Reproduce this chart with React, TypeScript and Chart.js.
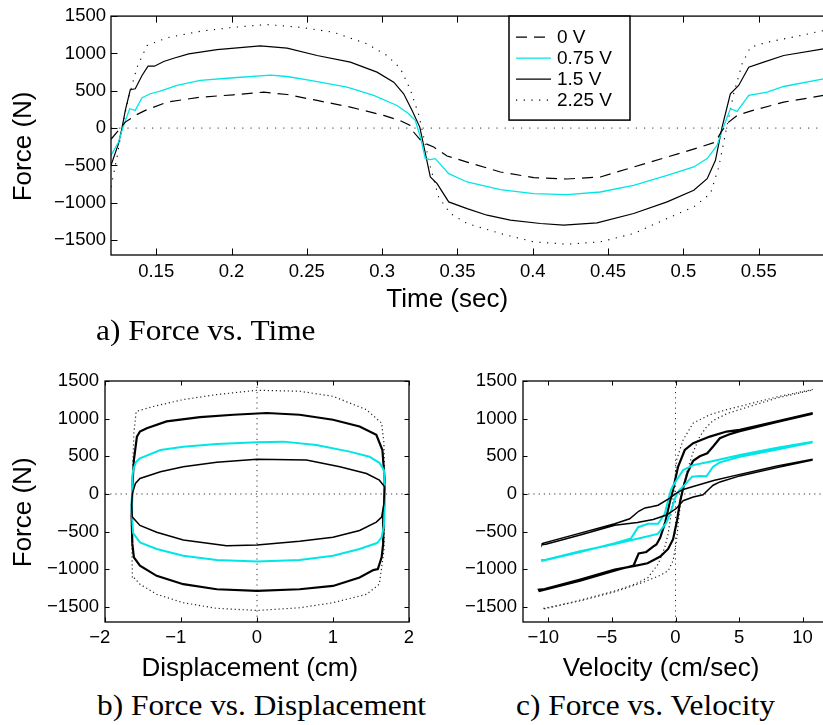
import React, { useEffect, useRef } from "react";
import { Chart, registerables } from "chart.js";

Chart.register(...registerables);

type P = [number, number];

// ---------------- data ----------------
const TOP_X_TICKS = [0.15, 0.2, 0.25, 0.3, 0.35, 0.4, 0.45, 0.5, 0.55];
const FORCE_TICKS = [-1500, -1000, -500, 0, 500, 1000, 1500];
const DISP_TICKS = [-2, -1, 0, 1, 2];
const VEL_TICKS = [-10, -5, 0, 5, 10];
const SERIES_LABELS = ["0 V", "0.75 V", "1.5 V", "2.25 V"];

// a) force (N) vs time (s)
const TIME_0V: P[] = [
  [0.12, -150], [0.1262, 0], [0.1295, 80], [0.1361, 170], [0.1428, 237], [0.1572, 348],
  [0.1793, 414], [0.2014, 446], [0.2213, 481], [0.2369, 450], [0.2568, 370], [0.2789, 281],
  [0.301, 170], [0.3121, 100], [0.3187, 35], [0.3209, -53], [0.3265, -187], [0.3342, -254],
  [0.3431, -374], [0.3564, -455], [0.3785, -588], [0.4006, -663], [0.4228, -682], [0.4449, -655],
  [0.467, -521], [0.4892, -388], [0.5113, -254], [0.5213, -187], [0.5257, -31], [0.5301, 80],
  [0.5357, 170], [0.5445, 227], [0.5666, 348], [0.593, 437],
];
const TIME_075V: P[] = [
  [0.12, -365], [0.125, -187], [0.128, 13], [0.1324, 259], [0.1361, 237], [0.1406, 406],
  [0.1461, 460], [0.1527, 495], [0.1638, 571], [0.1793, 638], [0.2014, 674], [0.2258, 709],
  [0.2369, 691], [0.2523, 638], [0.2767, 548], [0.2944, 437], [0.3099, 303], [0.3176, 193],
  [0.322, 103], [0.3254, -120], [0.3287, -409], [0.332, -423], [0.3353, -409], [0.3442, -610],
  [0.3564, -722], [0.3785, -824], [0.4006, -877], [0.4228, -891], [0.4449, -856], [0.467, -766],
  [0.4892, -632], [0.5069, -521], [0.5158, -409], [0.5224, -231], [0.5257, -31], [0.5312, 259],
  [0.5357, 223], [0.5434, 437], [0.5556, 481], [0.5666, 557], [0.593, 660],
];
const TIME_15V: P[] = [
  [0.12, -499], [0.125, -209], [0.1273, 0], [0.1295, 237], [0.1328, 513], [0.1361, 527],
  [0.1406, 705], [0.1446, 829], [0.1488, 829], [0.155, 892], [0.1616, 936], [0.1716, 995],
  [0.1904, 1052], [0.2191, 1101], [0.2369, 1070], [0.2568, 972], [0.2789, 883], [0.2966, 749],
  [0.3077, 615], [0.3143, 460], [0.3199, 237], [0.325, 13], [0.332, -655], [0.3365, -744],
  [0.3442, -989], [0.3564, -1078], [0.3697, -1167], [0.3851, -1234], [0.4051, -1278],
  [0.4205, -1301], [0.4427, -1270], [0.467, -1144], [0.4892, -989], [0.5069, -833],
  [0.5158, -677], [0.5213, -432], [0.5257, 13], [0.5312, 460], [0.5367, 571], [0.5434, 816],
  [0.5533, 883], [0.5666, 972], [0.593, 1061],
];
const TIME_225V: P[] = [
  [0.12, -789], [0.124, -388], [0.1273, 0], [0.1317, 414], [0.1373, 816], [0.1439, 1106],
  [0.1572, 1209], [0.1793, 1297], [0.2014, 1350], [0.2236, 1387], [0.2457, 1350], [0.2678, 1283],
  [0.29, 1128], [0.3033, 972], [0.3121, 800], [0.3187, 515], [0.3243, 180], [0.332, -521],
  [0.3375, -923], [0.3453, -1144], [0.3564, -1278], [0.3785, -1412], [0.4006, -1524],
  [0.4228, -1555], [0.4449, -1524], [0.467, -1412], [0.4892, -1211], [0.5069, -1056],
  [0.518, -877], [0.5235, -521], [0.5279, -75], [0.5334, 460], [0.539, 861], [0.5445, 1083],
  [0.5556, 1150], [0.5777, 1239], [0.593, 1306],
];
const TIME_ZERO: P[] = [[0.12, 0], [0.6, 0]];

// b) force (N) vs displacement (cm)
const DISP_0V: P[] = [
  [-1.64, 5], [-1.6, 139], [-1.54, 206], [-1.27, 294], [-0.97, 361], [-0.53, 420], [0, 460],
  [0.65, 450], [1.09, 361], [1.44, 272], [1.61, 183], [1.68, 94], [1.67, -128], [1.64, -307],
  [1.57, -374], [1.35, -485], [1.0, -575], [0.56, -628], [0, -677], [-0.4, -686], [-0.97, -610],
  [-1.32, -508], [-1.54, -418], [-1.64, -307], [-1.65, -150], [-1.64, 5],
];
const DISP_075V: P[] = [
  [-1.64, 227], [-1.63, 317], [-1.59, 428], [-1.54, 473], [-1.27, 584], [-0.97, 628],
  [-0.53, 664], [0, 687], [0.35, 695], [0.78, 651], [1.22, 562], [1.48, 495], [1.61, 414],
  [1.67, 317], [1.68, 139], [1.68, -150], [1.67, -418], [1.64, -575], [1.59, -642], [1.57, -655],
  [1.35, -730], [1.0, -820], [0.56, -877], [0, -896], [-0.53, -877], [-0.97, -820], [-1.32, -730],
  [-1.54, -642], [-1.63, -521], [-1.65, -200], [-1.64, 227],
];
const DISP_15V: P[] = [
  [-1.64, -663], [-1.65, -300], [-1.64, 100], [-1.62, 450], [-1.58, 762], [-1.54, 829],
  [-1.45, 874], [-1.19, 963], [-0.75, 1021], [-0.31, 1052], [0.13, 1075], [0.56, 1052],
  [1.0, 985], [1.35, 896], [1.57, 785], [1.65, 584], [1.68, 183], [1.67, -218], [1.66, -663],
  [1.64, -842], [1.59, -997], [1.53, -1011], [1.35, -1110], [1.0, -1221], [0.56, -1265],
  [0, -1288], [-0.53, -1265], [-0.97, -1198], [-1.32, -1087], [-1.54, -953], [-1.62, -842],
  [-1.64, -663],
];
const DISP_225V: P[] = [
  [-1.64, -1110], [-1.65, -500], [-1.64, 200], [-1.62, 806], [-1.59, 1096], [-1.36, 1163],
  [-0.97, 1253], [-0.53, 1320], [0, 1377], [0.56, 1364], [1.0, 1297], [1.44, 1119], [1.64, 941],
  [1.67, 674], [1.68, 94], [1.67, -753], [1.61, -1198], [1.44, -1332], [1.0, -1444],
  [0.56, -1511], [0, -1546], [-0.53, -1519], [-0.97, -1444], [-1.32, -1332], [-1.54, -1198],
  [-1.62, -1110], [-1.64, -1110],
];
const DISP_ZERO_H: P[] = [[-2, 0], [2, 0]];
const DISP_ZERO_V: P[] = [[0, -1700], [0, 1500]];

// c) force (N) vs velocity (cm/sec)
const VEL_0V: P[] = [
  [10.8, 460], [8, 370], [5.06, 260], [3, 180], [1.39, 100], [0.6, 60], [0.08, 10], [-0.58, -70],
  [-1.37, -150], [-1.9, -170], [-2.4, -185], [-2.9, -230], [-3.6, -330], [-4.78, -396],
  [-7.5, -520], [-10.45, -655], [-10.5, -672], [-10.2, -668], [-7.5, -545], [-4.78, -415],
  [-3, -380], [-1.76, -340], [-0.71, -280], [0.08, -190], [0.6, -90], [1.4, -40], [2.17, -10],
  [2.6, 60], [2.96, 116], [3.5, 160], [5.06, 240], [8, 350], [10.8, 452],
];
const VEL_075V: P[] = [
  [10.8, 695], [8, 615], [5.06, 517], [2.7, 428], [1.39, 383], [0.6, 317], [0.08, 183],
  [-0.2, 110], [-0.37, 49], [-0.58, -84], [-0.84, -262], [-1.37, -396], [-2.16, -396],
  [-2.94, -441], [-3.5, -590], [-4.78, -655], [-7.5, -770], [-10.45, -886], [-10.5, -875],
  [-10.2, -872], [-7.5, -760], [-4.78, -663], [-2.5, -575], [-1.4, -530], [-0.7, -380],
  [-0.3, -200], [0, -40], [0.3, 50], [0.73, 120], [1.3, 230], [1.91, 240], [2.44, 235],
  [2.96, 361], [3.49, 420], [5.06, 495], [8, 590], [10.8, 688],
];
const VEL_15V: P[] = [
  [10.8, 1075], [8, 965], [5.06, 852], [4.02, 829], [2.7, 762], [1.39, 674], [0.73, 584],
  [0.2, 361], [-0.19, 60], [-0.45, -110], [-0.8, -370], [-1.2, -580], [-1.5, -670],
  [-1.76, -700], [-2.3, -770], [-2.9, -790], [-3.3, -950], [-4.4, -1000], [-7.5, -1150],
  [-10.7, -1288], [-10.75, -1270], [-10.3, -1262], [-7.5, -1135], [-4.78, -1005], [-3.2, -955],
  [-2.2, -920], [-1.2, -830], [-0.58, -730], [-0.19, -600], [0.12, -352], [0.38, -84],
  [0.65, 110], [0.95, 285], [1.39, 440], [1.91, 500], [2.5, 540], [2.96, 630], [3.49, 740],
  [4.2, 790], [5.06, 835], [8, 955], [10.8, 1065],
];
const VEL_225V: P[] = [
  [10.8, 1387], [8, 1290], [5.06, 1163], [4.02, 1119], [2.7, 1052], [1.39, 941], [0.6, 718],
  [0.08, 450], [-0.11, 49], [-0.31, -218], [-0.58, -530], [-0.84, -709], [-1.37, -931],
  [-2.16, -1110], [-3.2, -1198], [-4.78, -1288], [-7.5, -1410], [-10.45, -1532],
  [-10.4, -1520], [-7.5, -1420], [-4.78, -1300], [-2.5, -1170], [-1.2, -1080], [-0.58, -1020],
  [-0.19, -886], [0.08, -619], [0.3, -250], [0.6, 100], [1.0, 350], [1.4, 560], [1.9, 760],
  [2.4, 880], [2.96, 975], [4.1, 1070], [5.85, 1163], [8, 1275], [10.8, 1380],
];
const VEL_ZERO_H: P[] = [[-12, 0], [12, 0]];
const VEL_ZERO_V: P[] = [[0, -1700], [0, 1500]];

// ---------------- styles ----------------
const SANS = "'Liberation Sans', Arial, Helvetica, sans-serif";
const SERIF = "'Liberation Serif', 'Times New Roman', Times, serif";
const CYAN = "#00e6e6";
const NBSP = "\u00A0";

type Style = { color: string; width: number; dash: number[] };
const TOP_STYLES: Style[] = [
  { color: "#000", width: 1.2, dash: [11, 7] },
  { color: CYAN, width: 1.3, dash: [] },
  { color: "#000", width: 1.2, dash: [] },
  { color: "#000", width: 1.1, dash: [1.2, 6.5] },
];
const LOOP_STYLES: Style[] = [
  { color: "#000", width: 1.5, dash: [] },
  { color: CYAN, width: 2, dash: [] },
  { color: "#000", width: 2.2, dash: [] },
  { color: "#222", width: 1.2, dash: [1.2, 2.8] },
];
const ZERO_TOP: Style = { color: "#333", width: 1, dash: [1.2, 7] };
const ZERO_LOOP: Style = { color: "#333", width: 1, dash: [1.2, 4] };

const toXY = (pts: P[]) => pts.map(([x, y]) => ({ x, y }));
const mkSet = (pts: P[], s: Style, label = "") => ({
  label,
  data: toXY(pts),
  borderColor: s.color,
  borderWidth: s.width,
  borderDash: s.dash,
  pointRadius: 0,
  tension: 0,
  fill: false,
});

const yLabel = (v: number) => (v < 0 ? "\u2212" + Math.abs(v) : String(v));
const xLabel = (v: number) => (v < 0 ? "\u2212" + Math.abs(v) + NBSP + NBSP : String(v));

// draws the MATLAB-like box, inward ticks and (optionally) legend
const framePlugin = {
  id: "matlabFrame",
  afterDatasetsDraw(chart: any, _args: any, opts: any) {
    const { ctx, chartArea: a } = chart;
    const xs = chart.scales.x;
    const ys = chart.scales.y;
    const L = opts.tickLen;
    ctx.save();
    ctx.setLineDash([]);
    ctx.strokeStyle = "#000";
    ctx.lineWidth = 1;
    ctx.beginPath();
    xs.ticks.forEach((t: any) => {
      const p = Math.round(xs.getPixelForValue(t.value)) + 0.5;
      ctx.moveTo(p, a.bottom);
      ctx.lineTo(p, a.bottom - L);
      ctx.moveTo(p, a.top);
      ctx.lineTo(p, a.top + L);
    });
    ys.ticks.forEach((t: any) => {
      const p = Math.round(ys.getPixelForValue(t.value)) + 0.5;
      ctx.moveTo(a.left, p);
      ctx.lineTo(a.left + L, p);
      ctx.moveTo(a.right, p);
      ctx.lineTo(a.right - L, p);
    });
    ctx.stroke();
    ctx.lineWidth = opts.boxWidth;
    ctx.strokeRect(a.left, a.top, a.right - a.left, a.bottom - a.top);

    if (opts.legend) {
      const lx = a.left + 398;
      const ly = a.top;
      const w = 121;
      const h = 104;
      ctx.fillStyle = "#fff";
      ctx.fillRect(lx, ly, w, h);
      ctx.lineWidth = 1.5;
      ctx.strokeStyle = "#000";
      ctx.strokeRect(lx, ly, w, h);
      ctx.font = `19px ${SANS}`;
      ctx.textBaseline = "middle";
      ctx.textAlign = "left";
      SERIES_LABELS.forEach((lab, i) => {
        const s = TOP_STYLES[i];
        const y = ly + 21 + i * 21;
        ctx.beginPath();
        ctx.strokeStyle = s.color;
        ctx.lineWidth = s.width;
        ctx.setLineDash(s.dash);
        ctx.moveTo(lx + 7, y);
        ctx.lineTo(lx + 42, y);
        ctx.stroke();
        ctx.setLineDash([]);
        ctx.fillStyle = "#000";
        ctx.fillText(lab, lx + 48, y + 1);
      });
    }
    ctx.restore();
  },
};

type AxisSpec = {
  min: number;
  max: number;
  ticks: number[];
  size: number;
  pad: number;
  title?: string;
  titlePad?: number;
  fmt: (v: number) => string;
};

const axis = (spec: AxisSpec, horizontal: boolean) => ({
  type: "linear",
  min: spec.min,
  max: spec.max,
  afterBuildTicks: (s: any) => {
    s.ticks = spec.ticks.map((value) => ({ value }));
  },
  afterFit: (s: any) => {
    if (horizontal) s.height = spec.size;
    else s.width = spec.size;
  },
  grid: { display: false, drawTicks: false },
  border: { display: false },
  ticks: {
    autoSkip: false,
    maxRotation: 0,
    padding: spec.pad,
    color: "#000",
    font: { family: SANS, size: 18.5 },
    callback: (v: any) => spec.fmt(Number(v)),
  },
  title: spec.title
    ? {
        display: true,
        text: spec.title,
        color: "#000",
        font: { family: SANS, size: 26 },
        padding: horizontal ? { top: 0, bottom: spec.titlePad } : { top: spec.titlePad, bottom: 0 },
      }
    : { display: false },
});

function makeChart(
  canvas: HTMLCanvasElement,
  datasets: any[],
  x: AxisSpec,
  y: AxisSpec,
  padding: any,
  frame: any
) {
  return new Chart(canvas, {
    type: "line",
    data: { datasets },
    options: {
      responsive: false,
      animation: false,
      devicePixelRatio: 1,
      layout: { padding },
      plugins: {
        legend: { display: false },
        tooltip: { enabled: false },
        matlabFrame: frame,
      } as any,
      scales: { x: axis(x, true) as any, y: axis(y, false) as any },
    },
    plugins: [framePlugin as any],
  });
}

function ChartCanvas(props: { left: number; top: number; width: number; height: number; build: (c: HTMLCanvasElement) => Chart }) {
  const ref = useRef<HTMLCanvasElement>(null);
  useEffect(() => {
    const chart = props.build(ref.current as HTMLCanvasElement);
    return () => chart.destroy();
  }, []);
  return (
    <canvas
      ref={ref}
      width={props.width}
      height={props.height}
      style={{ position: "absolute", left: props.left, top: props.top, width: props.width, height: props.height }}
    />
  );
}

const buildTop = (c: HTMLCanvasElement) =>
  makeChart(
    c,
    [
      mkSet(TIME_0V, TOP_STYLES[0], SERIES_LABELS[0]),
      mkSet(TIME_075V, TOP_STYLES[1], SERIES_LABELS[1]),
      mkSet(TIME_15V, TOP_STYLES[2], SERIES_LABELS[2]),
      mkSet(TIME_225V, TOP_STYLES[3], SERIES_LABELS[3]),
      mkSet(TIME_ZERO, ZERO_TOP),
    ],
    { min: 0.12, max: 0.6, ticks: TOP_X_TICKS, size: 65, pad: 6, title: "Time (sec)" + NBSP.repeat(7), titlePad: 5, fmt: (v) => String(v) },
    { min: -1700, max: 1500, ticks: FORCE_TICKS, size: 111, pad: 5, title: "Force (N)" + NBSP.repeat(3), titlePad: 8, fmt: yLabel },
    { top: 15, right: 8, left: 0, bottom: 0 },
    { tickLen: 6.5, boxWidth: 1.3, legend: true }
  );

const buildDisp = (c: HTMLCanvasElement) =>
  makeChart(
    c,
    [
      mkSet(DISP_0V, LOOP_STYLES[0]),
      mkSet(DISP_075V, LOOP_STYLES[1]),
      mkSet(DISP_15V, LOOP_STYLES[2]),
      mkSet(DISP_225V, LOOP_STYLES[3]),
      mkSet(DISP_ZERO_H, ZERO_LOOP),
      mkSet(DISP_ZERO_V, ZERO_LOOP),
    ],
    { min: -2, max: 2, ticks: DISP_TICKS, size: 68, pad: 4.5, title: "Displacement (cm)" + NBSP.repeat(2), titlePad: 5.5, fmt: xLabel },
    { min: -1700, max: 1500, ticks: FORCE_TICKS, size: 105, pad: 6, title: "Force (N)" + NBSP.repeat(3), titlePad: 8, fmt: yLabel },
    { top: 21, right: 11, left: 0, bottom: 0 },
    { tickLen: 4.5, boxWidth: 1.3, legend: false }
  );

const buildVel = (c: HTMLCanvasElement) =>
  makeChart(
    c,
    [
      mkSet(VEL_0V, LOOP_STYLES[0]),
      mkSet(VEL_075V, LOOP_STYLES[1]),
      mkSet(VEL_15V, LOOP_STYLES[2]),
      mkSet(VEL_225V, LOOP_STYLES[3]),
      mkSet(VEL_ZERO_H, ZERO_LOOP),
      mkSet(VEL_ZERO_V, ZERO_LOOP),
    ],
    { min: -12, max: 12, ticks: VEL_TICKS, size: 68, pad: 4.5, title: "Velocity (cm/sec)" + NBSP.repeat(4), titlePad: 5.5, fmt: xLabel },
    { min: -1700, max: 1500, ticks: FORCE_TICKS, size: 103, pad: 6, fmt: yLabel },
    { top: 21, right: 12, left: 0, bottom: 0 },
    { tickLen: 4.5, boxWidth: 1.3, legend: false }
  );

const captionStyle = (left: number, top: number): React.CSSProperties => ({
  position: "absolute",
  left,
  top,
  fontFamily: SERIF,
  fontSize: 28.5,
  lineHeight: "28.5px",
  whiteSpace: "nowrap",
  color: "#000",
  transform: "scaleX(1.1)",
  transformOrigin: "left top",
});

export default function App() {
  return (
    <div
      style={{
        position: "fixed",
        left: 0,
        top: 0,
        width: 823,
        height: 725,
        overflow: "hidden",
        background: "#fff",
      }}
    >
      <ChartCanvas left={0} top={0} width={842} height={320} build={buildTop} />
      <ChartCanvas left={0} top={360} width={420} height={330} build={buildDisp} />
      <ChartCanvas left={420} top={360} width={420} height={330} build={buildVel} />
      <div style={captionStyle(96, 317)}>a) Force vs. Time</div>
      <div style={captionStyle(96.5, 692)}>b) Force vs. Displacement</div>
      <div style={captionStyle(516, 692)}>c) Force vs. Velocity</div>
    </div>
  );
}
